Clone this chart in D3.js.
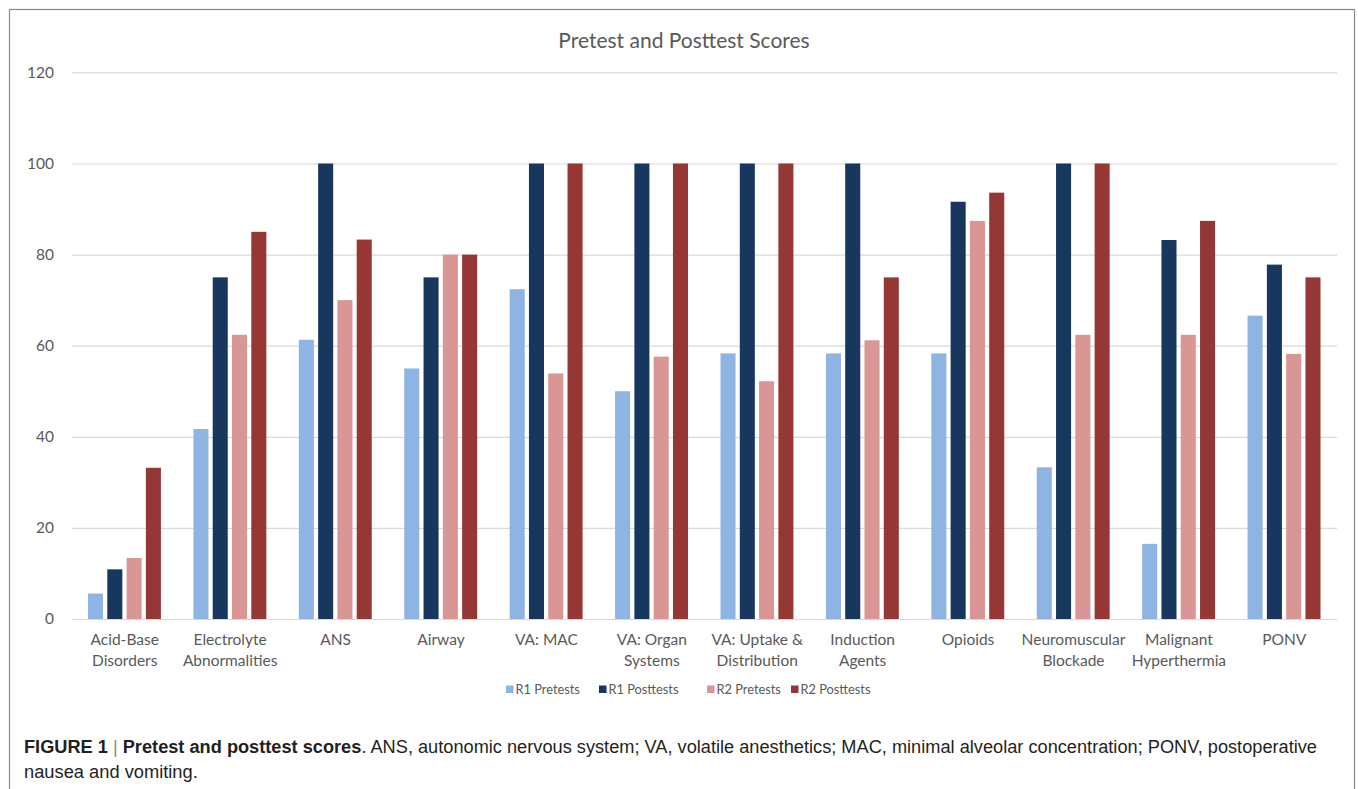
<!DOCTYPE html>
<html>
<head>
<meta charset="utf-8">
<script src="https://cdn.jsdelivr.net/npm/d3@7"></script>
<style>
  html, body { margin: 0; padding: 0; background: #fff; }
  svg { display: block; }
</style>
</head>
<body>
<svg id="fig" width="1358" height="789"></svg>
<script>
// Topic categories (line breaks mark the two-line axis labels)
const categories = [
  "Acid-Base\nDisorders", "Electrolyte\nAbnormalities", "ANS", "Airway",
  "VA: MAC", "VA: Organ\nSystems", "VA: Uptake &\nDistribution",
  "Induction\nAgents", "Opioids", "Neuromuscular\nBlockade",
  "Malignant\nHyperthermia", "PONV"
];

const seriesNames = ["R1 Pretests", "R1 Posttests", "R2 Pretests", "R2 Posttests"];
const seriesColors = ["#8DB4E2", "#17375E", "#DA9694", "#953735"];

// Scores (%) per category, one array per series
const r1Pretests   = [5.6, 41.7, 61.3, 55.0, 72.4, 50.0, 58.3, 58.3, 58.3, 33.3, 16.5, 66.6];
const r1Posttests  = [10.9, 75.0, 100, 75.0, 100, 100, 100, 100, 91.6, 100, 83.2, 77.8];
const r2Pretests   = [13.4, 62.4, 70.0, 80.0, 53.9, 57.6, 52.2, 61.2, 87.4, 62.4, 62.4, 58.2];
const r2Posttests  = [33.2, 85.0, 83.3, 80.0, 100, 100, 100, 75.0, 93.6, 100, 87.4, 75.0];

const yTicks = [0, 20, 40, 60, 80, 100, 120];

const chartTitle = "Pretest and Posttest Scores";

const allSeries = [r1Pretests, r1Posttests, r2Pretests, r2Posttests];
const rows = categories.map((c, i) => ({
  cat: c,
  values: seriesNames.map((s, k) => ({ series: s, value: allSeries[k][i] }))
}));

const svg = d3.select("#fig");
const textGray = "#595959";

// Figure frame
svg.append("rect")
  .attr("x", 9.5).attr("y", 9.5)
  .attr("width", 1345).attr("height", 800)
  .attr("fill", "none").attr("stroke", "#8a8a8a").attr("stroke-width", 1.2);

const plot = { left: 72, right: 1337, top: 72.4, bottom: 619 };

const y = d3.scaleLinear().domain([0, 120]).range([plot.bottom, plot.top]);
const x0 = d3.scaleBand().domain(categories).range([plot.left, plot.right]);
const x1 = d3.scaleBand().domain(seriesNames).range([16, x0.bandwidth() - 16.5]).paddingInner(0.22);
const color = d3.scaleOrdinal().domain(seriesNames).range(seriesColors);

// Title
svg.append("text")
  .attr("x", 684).attr("y", 48)
  .attr("text-anchor", "middle")
  .attr("font-family", "Lato, 'Open Sans', sans-serif")
  .attr("font-size", 21)
  .attr("fill", textGray)
  .text(chartTitle);

// Horizontal gridlines + y tick labels
const yAxis = svg.append("g")
  .attr("transform", `translate(${plot.left},0)`)
  .call(d3.axisLeft(y).tickValues(yTicks).tickSize(-(plot.right - plot.left)).tickPadding(18));
yAxis.select(".domain").remove();
yAxis.selectAll(".tick line").attr("stroke", "#d9d9d9").attr("stroke-width", 1.2);
yAxis.selectAll(".tick text")
  .attr("font-family", "Lato, 'Open Sans', sans-serif")
  .attr("font-size", 15.5)
  .attr("fill", textGray);

// Bars
const groups = svg.append("g").selectAll("g")
  .data(rows).join("g")
  .attr("transform", d => `translate(${x0(d.cat)},0)`);

groups.selectAll("rect")
  .data(d => d.values).join("rect")
  .attr("x", d => x1(d.series))
  .attr("width", x1.bandwidth())
  .attr("y", d => y(d.value))
  .attr("height", d => y(0) - y(d.value))
  .attr("fill", d => color(d.series));

// Category axis
const xAxis = svg.append("g")
  .attr("transform", `translate(0,${plot.bottom})`)
  .call(d3.axisBottom(x0).tickSize(0).tickPadding(0));
xAxis.select(".domain").attr("stroke", "#d9d9d9").attr("stroke-width", 1.2);
xAxis.selectAll(".tick text").each(function(d) {
  const t = d3.select(this);
  t.text(null)
    .attr("font-family", "Lato, 'Open Sans', sans-serif")
    .attr("font-size", 15.5)
    .attr("fill", textGray)
    .attr("y", 0)
    .attr("dy", null);
  d.split("\n").forEach((line, i) => {
    t.append("tspan").attr("x", 0).attr("y", 26 + i * 21).text(line);
  });
});

// Legend
const legendX = [506, 599, 707, 791];
const legend = svg.append("g").selectAll("g")
  .data(seriesNames).join("g")
  .attr("transform", (d, i) => `translate(${legendX[i]},${694})`);
legend.append("rect")
  .attr("x", 0).attr("y", -8.5).attr("width", 7.5).attr("height", 7.5)
  .attr("fill", d => color(d));
legend.append("text")
  .attr("x", 9.5).attr("y", 0)
  .attr("font-family", "Lato, 'Open Sans', sans-serif")
  .attr("font-size", 12.8)
  .attr("fill", textGray)
  .text(d => d);

// Caption
const cap = svg.append("text")
  .attr("x", 24).attr("y", 753)
  .attr("font-family", "'Liberation Sans', Arial, sans-serif")
  .attr("font-size", 18.3)
  .attr("textLength", 1293)
  .attr("lengthAdjust", "spacingAndGlyphs")
  .attr("fill", "#231f20");
cap.append("tspan").attr("font-weight", "bold").text("FIGURE 1 ");
cap.append("tspan").attr("fill", "#8a8a8a").text("| ");
cap.append("tspan").attr("font-weight", "bold").text("Pretest and posttest scores");
cap.append("tspan").text(". ANS, autonomic nervous system; VA, volatile anesthetics; MAC, minimal alveolar concentration; PONV, postoperative");
svg.append("text")
  .attr("x", 24).attr("y", 778)
  .attr("font-family", "'Liberation Sans', Arial, sans-serif")
  .attr("font-size", 18.3)
  .attr("fill", "#231f20")
  .text("nausea and vomiting.");
</script>
</body>
</html>
